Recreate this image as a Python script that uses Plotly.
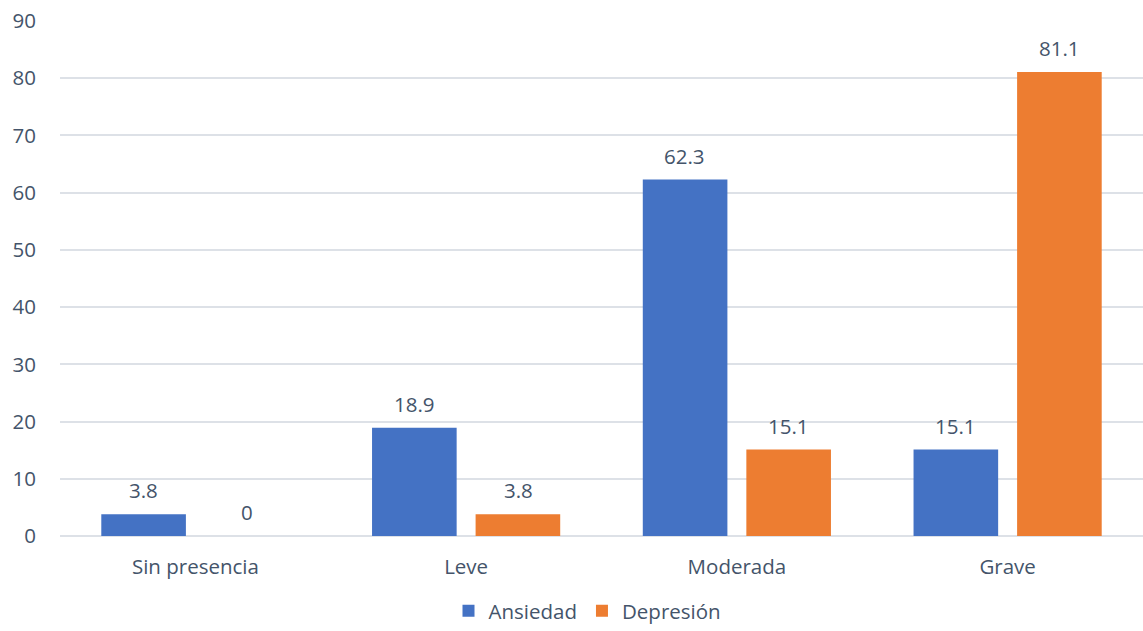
import plotly.graph_objects as go

categories = ["Sin presencia", "Leve", "Moderada", "Grave"]
ansiedad = [3.8, 18.9, 62.3, 15.1]
depresion = [0, 3.8, 15.1, 81.1]
y_ticks = [0, 10, 20, 30, 40, 50, 60, 70, 80, 90]

TEXT = "#44546A"
FONT = "Open Sans"
FS = 20.5

fig = go.Figure()
fig.add_trace(go.Bar(name="Ansiedad", x=categories, y=ansiedad,
                     marker=dict(color="#4472C4", line=dict(width=0))))
fig.add_trace(go.Bar(name="Depresión", x=categories, y=depresion,
                     marker=dict(color="#ED7D31", line=dict(width=0))))

for vals, shift in ((ansiedad, -52), (depresion, 52)):
    for c, v in zip(categories, vals):
        fig.add_annotation(x=c, y=v, text=f"{v:g}", showarrow=False,
                           xshift=shift, yshift=8, yanchor="bottom",
                           font=dict(family=FONT, size=FS, color=TEXT))

fig.update_layout(
    width=1143, height=631,
    margin=dict(l=60, r=0, t=21, b=95),
    paper_bgcolor="white", plot_bgcolor="white",
    barmode="group", bargap=0.235, bargroupgap=0.183,
    font=dict(family=FONT, size=FS, color=TEXT),
    showlegend=True,
    legend=dict(orientation="h", x=0.514, xanchor="center", xref="container",
                y=0.0, yanchor="bottom", yref="container", tracegroupgap=0,
                font=dict(size=FS, color=TEXT), itemwidth=30, traceorder="normal"),
    xaxis=dict(showgrid=False, showline=False, zeroline=False,
               ticks="outside", ticklen=12, tickcolor="rgba(0,0,0,0)",
               tickfont=dict(size=FS, color=TEXT)),
    yaxis=dict(range=[0, 90], tickvals=y_ticks, showgrid=True, gridcolor="#DDE1E7",
               gridwidth=2, zeroline=True, zerolinecolor="#DDE1E7", zerolinewidth=2,
               showline=False, ticks="outside", ticklen=19, tickcolor="rgba(0,0,0,0)",
               tickfont=dict(size=FS, color=TEXT)),
)
fig.write_html("out.html")
